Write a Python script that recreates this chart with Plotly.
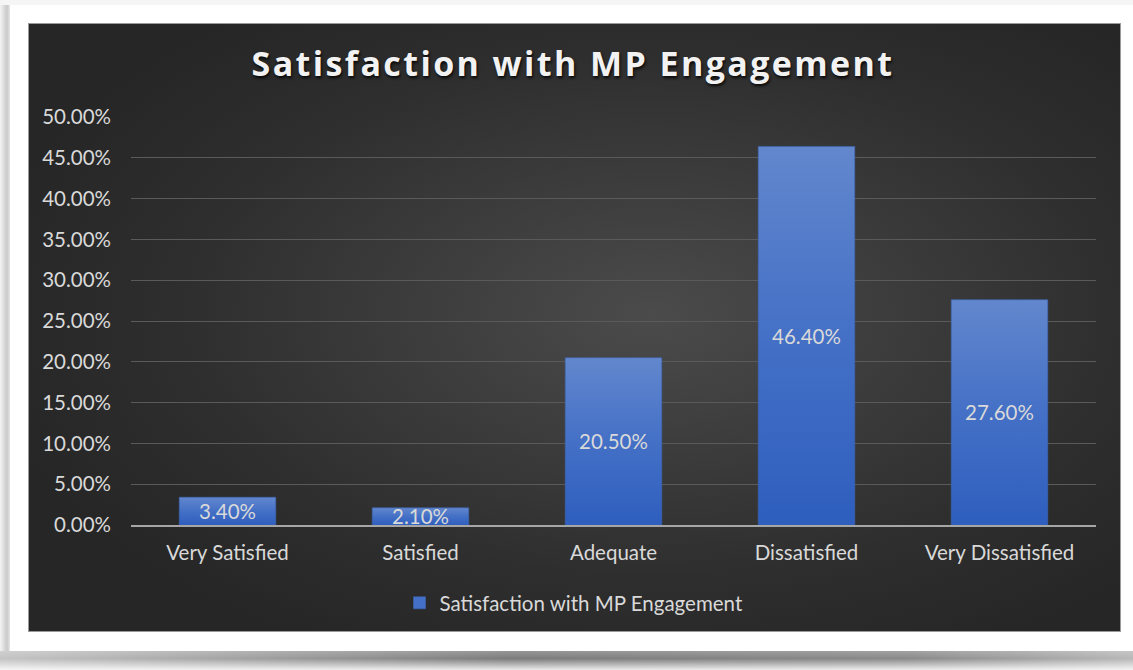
import base64
import plotly.graph_objects as go

# ---- data ----
categories = ["Very Satisfied", "Satisfied", "Adequate", "Dissatisfied", "Very Dissatisfied"]
values = [0.034, 0.021, 0.205, 0.464, 0.276]
series_name = "Satisfaction with MP Engagement"
chart_title = "Satisfaction with MP Engagement"
y_ticks = [0, 0.05, 0.10, 0.15, 0.20, 0.25, 0.30, 0.35, 0.40, 0.45, 0.50]

W, H = 1133, 670
L, R, T, B = 131, 37, 117, 145
pw, ph = W - L - R, H - T - B

svg = f'''<svg xmlns="http://www.w3.org/2000/svg" width="{W}" height="{H}" viewBox="0 0 {W} {H}" preserveAspectRatio="none">
<defs>
<radialGradient id="g" cx="0.57" cy="0.48" r="0.62">
<stop offset="0" stop-color="#4b4b4b"/>
<stop offset="0.7" stop-color="#2e2e2e"/>
<stop offset="1" stop-color="#262626"/>
</radialGradient>
<linearGradient id="sb" x1="0" y1="0" x2="1" y2="0">
<stop offset="0" stop-color="#c4c4c4"/>
<stop offset="0.45" stop-color="#7c7c7c"/>
<stop offset="0.8" stop-color="#8a8a8a"/>
<stop offset="1" stop-color="#b8b8b8"/>
</linearGradient>
<linearGradient id="sv" x1="0" y1="0" x2="0" y2="1">
<stop offset="0" stop-color="#ffffff" stop-opacity="0.2"/>
<stop offset="0.4" stop-color="#ffffff" stop-opacity="0"/>
<stop offset="1" stop-color="#ffffff" stop-opacity="0.85"/>
</linearGradient>
<linearGradient id="sl" x1="0" y1="0" x2="1" y2="0">
<stop offset="0" stop-color="#f4f4f4"/>
<stop offset="0.7" stop-color="#c9c9c9"/>
<stop offset="1" stop-color="#e6e6e6"/>
</linearGradient>
</defs>
<rect x="0" y="0" width="{W}" height="{H}" fill="#f5f5f5"/>
<rect x="0" y="5" width="10" height="646" fill="url(#sl)"/>
<rect x="10" y="5" width="{W-10}" height="646" fill="#ffffff"/>
<rect x="0" y="651" width="{W}" height="19" fill="url(#sb)"/>
<rect x="0" y="651" width="{W}" height="19" fill="url(#sv)"/>
<rect x="28.5" y="23.5" width="1092" height="608" fill="url(#g)" stroke="#9a9a9a" stroke-width="1"/>
</svg>'''
bg_src = "data:image/svg+xml;base64," + base64.b64encode(svg.encode()).decode()

font_main = "Lato, 'Open Sans', sans-serif"
light = "#d9d9d9"
fs = 20.5

fig = go.Figure()
fig.add_trace(go.Bar(
    x=categories,
    y=values,
    name=series_name,
    marker=dict(color="#4470c8", line=dict(color="#3d66b5", width=0.6)),
    text=[f"{v*100:.2f}%" for v in values],
    textposition="inside",
    insidetextanchor="middle",
    textangle=0,
    constraintext="none",
    textfont=dict(family=font_main, size=fs, color=light),
    showlegend=True,
))

fig.update_layout(
    width=W, height=H,
    margin=dict(l=L, r=R, t=T, b=B, pad=0),
    paper_bgcolor="#ffffff",
    plot_bgcolor="rgba(0,0,0,0)",
    bargap=0.5,
    font=dict(family=font_main, size=fs, color=light),
    title=dict(
        text=chart_title,
        x=573 / W, xref="container", xanchor="center",
        y=1 - 64 / H, yref="container", yanchor="middle",
        font=dict(family="'Open Sans', sans-serif", size=34, color="#f2f2f2", weight="bold",
                  shadow="1px 2px 3px rgba(0,0,0,0.85)"),
    ),
    xaxis=dict(
        showgrid=False,
        showline=True, linecolor="#a6a6a6", linewidth=1.5,
        ticks="", ticklabelstandoff=9,
        tickfont=dict(family=font_main, size=fs, color=light),
        fixedrange=True,
    ),
    yaxis=dict(
        range=[0, 0.5],
        tickvals=y_ticks,
        tickformat=".2%",
        showgrid=True, gridcolor="#5a5a5a", gridwidth=1,
        zeroline=False, showline=False,
        ticks="", ticklabelstandoff=19,
        tickfont=dict(family=font_main, size=fs, color=light),
        fixedrange=True,
    ),
    legend=dict(
        orientation="h",
        x=(574 - L) / pw, xanchor="center",
        y=(525 - 603) / ph, yanchor="middle",
        bgcolor="rgba(0,0,0,0)",
        font=dict(family=font_main, size=fs, color=light),
        itemwidth=30,
    ),
    images=[dict(
        source=bg_src, xref="paper", yref="paper",
        x=-L / pw, y=1 + T / ph, sizex=W / pw, sizey=H / ph,
        xanchor="left", yanchor="top", sizing="stretch", layer="below",
    )],
)

post = """
var gd = document.getElementById('{plot_id}');
gd.querySelectorAll('.gtitle').forEach(function(t){ t.style.letterSpacing = '2.4px'; });
var NS = 'http://www.w3.org/2000/svg';
var defs = gd.querySelector('svg.main-svg defs');
if (defs) {
  var lg = document.createElementNS(NS, 'linearGradient');
  lg.setAttribute('id', 'barGradMP');
  lg.setAttribute('x1', '0'); lg.setAttribute('y1', '0');
  lg.setAttribute('x2', '0'); lg.setAttribute('y2', '1');
  [['0', '#6287cd'], ['0.5', '#4470c6'], ['1', '#2e5ebe']].forEach(function(s){
    var st = document.createElementNS(NS, 'stop');
    st.setAttribute('offset', s[0]); st.setAttribute('stop-color', s[1]);
    lg.appendChild(st);
  });
  defs.appendChild(lg);
  gd.querySelectorAll('.barlayer .point path').forEach(function(p){
    p.style.fill = 'url(#barGradMP)';
  });
}
"""

fig.write_html("out.html", config={"displayModeBar": False}, post_script=post)
